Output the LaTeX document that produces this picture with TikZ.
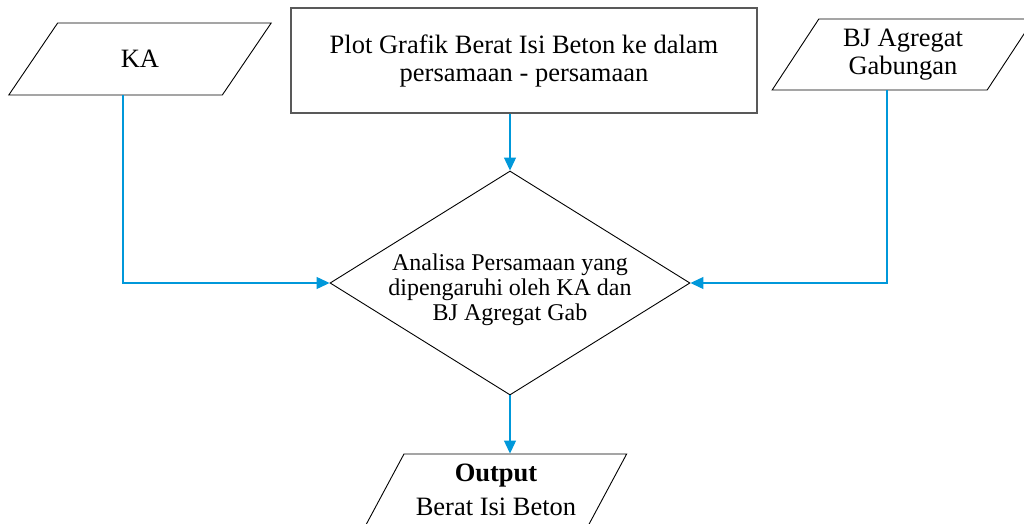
\documentclass[tikz,border=0pt]{standalone}
\usepackage{fontspec}
\setmainfont{Liberation Serif}
\usetikzlibrary{shapes.geometric, arrows.meta}
\definecolor{flowblue}{RGB}{0,152,218}
\begin{document}
\begin{tikzpicture}[x=1pt, y=-1pt,
	iobox/.style={trapezium, trapezium left angle=57, trapezium right angle=123, trapezium stretches=true, draw, line width=0.9pt, minimum width=264pt, minimum height=72pt, inner sep=0pt, align=center, font=\fontsize{26.5}{28}\selectfont},
	procbox/.style={rectangle, draw=black!65, line width=1.4pt, inner sep=0pt, align=center, font=\fontsize{26.5}{28}\selectfont},
	decbox/.style={diamond, draw, line width=0.9pt, aspect=1.6, inner sep=0pt, minimum width=360pt, minimum height=224pt},
	flow/.style={draw=flowblue, line width=1.2pt, -{Triangle[length=13pt, width=12pt]}}]
	\useasboundingbox (0, 0) rectangle (1024, 524);
	% Blocks:
	\node[iobox] (ka) at (140, 59) {KA};
	\node[procbox, minimum width=466pt, minimum height=105pt] (plot) at (524, 60.5) {Plot Grafik Berat Isi Beton ke dalam\\persamaan - persamaan};
	\node[iobox, minimum width=262pt, minimum height=71pt] (bj) at (903, 54.5) {BJ Agregat\\Gabungan};
	\node[decbox] (analisa) at (510, 283) {};
	\node[align=center, inner sep=0pt, font=\fontsize{24}{25}\selectfont] (analisatext) at (510, 290) {Analisa Persamaan yang\\dipengaruhi oleh KA dan\\BJ Agregat Gab};
	\node[iobox, minimum width=262pt] (out) at (496, 490) {\textbf{Output}\\[6pt]Berat Isi Beton};
	% Connectors:
	\draw[flow] ([xshift=-17pt]ka.south) |- (analisa.west);
	\draw[flow] (plot.south -| analisa.north) -- (analisa.north);
	\draw[flow] ([xshift=-16pt]bj.south) |- (analisa.east);
	\draw[flow] (analisa.south) -- (analisa.south |- out.north);
\end{tikzpicture}
\end{document}
